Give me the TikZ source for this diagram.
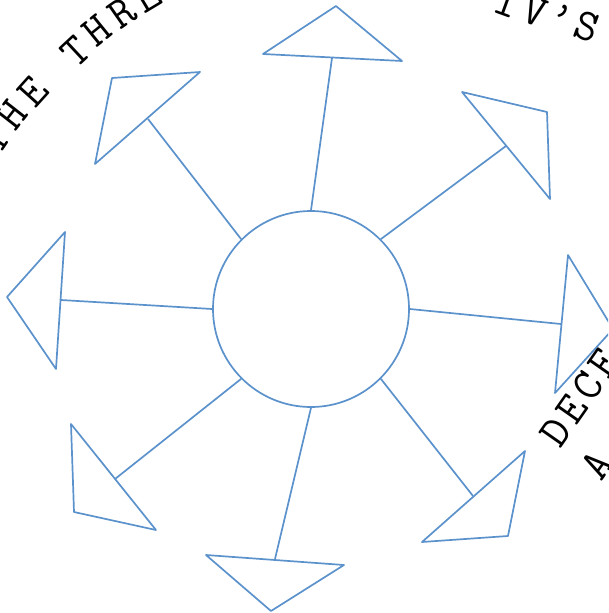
\documentclass[tikz,border=0pt]{standalone}
\usepackage{fontspec}
\definecolor{lblue}{RGB}{91,146,204}
\begin{document}
\begin{tikzpicture}[x=1pt,y=-1pt,
  ln/.style={draw=lblue, line width=1.7pt, line join=round},
  ltr/.style={font=\ttfamily\fontsize{45}{45}\selectfont, inner sep=0pt, text height=27pt, text depth=0pt, anchor=center}]
\useasboundingbox (0,0) rectangle (608,613);
\clip (0,0) rectangle (608,613);
% hub
\node[ln, circle, minimum size=196pt, inner sep=0pt] (c) at (311,309) {};
% triangles
\coordinate (a1) at (263,54);  \coordinate (b1) at (336,6);   \coordinate (c1) at (402,61);  \coordinate (s1) at (332,58);
\coordinate (a2) at (462,92);  \coordinate (b2) at (547,112); \coordinate (c2) at (550,199); \coordinate (s2) at (506,146);
\coordinate (a3) at (568,255); \coordinate (b3) at (613,329); \coordinate (c3) at (555,393); \coordinate (s3) at (561,324);
\coordinate (a4) at (525,451); \coordinate (b4) at (508,536); \coordinate (c4) at (422,542); \coordinate (s4) at (473,496);
\coordinate (a5) at (344,565); \coordinate (b5) at (271,611); \coordinate (c5) at (206,555); \coordinate (s5) at (275,559);
\coordinate (a6) at (156,530); \coordinate (b6) at (74,512);  \coordinate (c6) at (71,424);  \coordinate (s6) at (115,479);
\coordinate (a7) at (56,369);  \coordinate (b7) at (7,297);   \coordinate (c7) at (65,232);  \coordinate (s7) at (61,300);
\coordinate (a8) at (95,164);  \coordinate (b8) at (112,78);  \coordinate (c8) at (200,72);  \coordinate (s8) at (148,119);
\foreach \i in {1,...,8}{\draw[ln] (a\i) -- (b\i) -- (c\i) -- cycle;}
% spokes
\draw[ln] (c.north) -- (s1);
\draw[ln] (c.north east) -- (s2);
\draw[ln] (c.east) -- (s3);
\draw[ln] (c.south east) -- (s4);
\draw[ln] (c.south) -- (s5);
\draw[ln] (c.south west) -- (s6);
\draw[ln] (c.west) -- (s7);
\draw[ln] (c.north west) -- (s8);
% curved text, upper left
\node[ltr, rotate=56] (t1) at (-5,139) {T};
\node[ltr, rotate=52] (t2) at (12,115) {H};
\node[ltr, rotate=48] (t3) at (33,92) {E};
\node[ltr, rotate=43] (t4) at (76,52) {T};
\node[ltr, rotate=39] (t5) at (97,31) {H};
\node[ltr, rotate=35] (t6) at (122,13) {R};
\node[ltr, rotate=31] (t7) at (147,-3) {E};
% upper right
\node[ltr, rotate=-20] (u1) at (507,3) {I};
\node[ltr, rotate=-19] (u2) at (535,12) {V};
\node[ltr, rotate=-19] (u3) at (561,19) {’};
\node[ltr, rotate=-20] (u4) at (587,27) {S};
% right side
\node[ltr, rotate=55] (r1) at (556,432) {D};
\node[ltr, rotate=55] (r2) at (572,409) {E};
\node[ltr, rotate=55] (r3) at (588,386) {C};
\node[ltr, rotate=55] (r4) at (604,363) {E};
\node[ltr, rotate=55] (r5) at (597,465) {A};
\end{tikzpicture}
\end{document}
